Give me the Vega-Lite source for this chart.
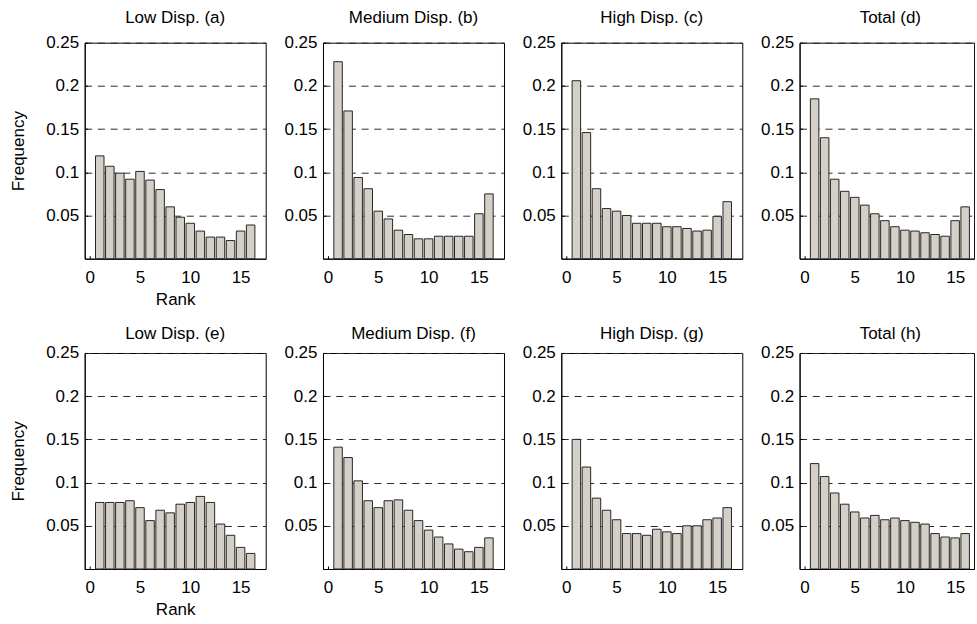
{
  "$schema": "https://vega.github.io/schema/vega-lite/v6.json",
  "padding": {"left": 8.7, "top": 7.7, "right": 0, "bottom": 0},
  "bounds": "flush",
  "columns": 4,
  "spacing": {"row": 94.3, "column": 57.3},
  "datasets": {
    "freq": [
      {"panel": "a", "rank": 1, "freq": 0.119}, {"panel": "a", "rank": 2, "freq": 0.107}, {"panel": "a", "rank": 3, "freq": 0.099}, {"panel": "a", "rank": 4, "freq": 0.092},
      {"panel": "a", "rank": 5, "freq": 0.101}, {"panel": "a", "rank": 6, "freq": 0.091}, {"panel": "a", "rank": 7, "freq": 0.080}, {"panel": "a", "rank": 8, "freq": 0.060},
      {"panel": "a", "rank": 9, "freq": 0.048}, {"panel": "a", "rank": 10, "freq": 0.041}, {"panel": "a", "rank": 11, "freq": 0.032}, {"panel": "a", "rank": 12, "freq": 0.025},
      {"panel": "a", "rank": 13, "freq": 0.025}, {"panel": "a", "rank": 14, "freq": 0.021}, {"panel": "a", "rank": 15, "freq": 0.032}, {"panel": "a", "rank": 16, "freq": 0.039},

      {"panel": "b", "rank": 1, "freq": 0.228}, {"panel": "b", "rank": 2, "freq": 0.171}, {"panel": "b", "rank": 3, "freq": 0.094}, {"panel": "b", "rank": 4, "freq": 0.081},
      {"panel": "b", "rank": 5, "freq": 0.055}, {"panel": "b", "rank": 6, "freq": 0.046}, {"panel": "b", "rank": 7, "freq": 0.033}, {"panel": "b", "rank": 8, "freq": 0.028},
      {"panel": "b", "rank": 9, "freq": 0.023}, {"panel": "b", "rank": 10, "freq": 0.023}, {"panel": "b", "rank": 11, "freq": 0.026}, {"panel": "b", "rank": 12, "freq": 0.026},
      {"panel": "b", "rank": 13, "freq": 0.026}, {"panel": "b", "rank": 14, "freq": 0.026}, {"panel": "b", "rank": 15, "freq": 0.052}, {"panel": "b", "rank": 16, "freq": 0.075},

      {"panel": "c", "rank": 1, "freq": 0.206}, {"panel": "c", "rank": 2, "freq": 0.146}, {"panel": "c", "rank": 3, "freq": 0.081}, {"panel": "c", "rank": 4, "freq": 0.058},
      {"panel": "c", "rank": 5, "freq": 0.055}, {"panel": "c", "rank": 6, "freq": 0.050}, {"panel": "c", "rank": 7, "freq": 0.041}, {"panel": "c", "rank": 8, "freq": 0.041},
      {"panel": "c", "rank": 9, "freq": 0.041}, {"panel": "c", "rank": 10, "freq": 0.037}, {"panel": "c", "rank": 11, "freq": 0.037}, {"panel": "c", "rank": 12, "freq": 0.035},
      {"panel": "c", "rank": 13, "freq": 0.032}, {"panel": "c", "rank": 14, "freq": 0.033}, {"panel": "c", "rank": 15, "freq": 0.049}, {"panel": "c", "rank": 16, "freq": 0.066},

      {"panel": "d", "rank": 1, "freq": 0.185}, {"panel": "d", "rank": 2, "freq": 0.140}, {"panel": "d", "rank": 3, "freq": 0.092}, {"panel": "d", "rank": 4, "freq": 0.078},
      {"panel": "d", "rank": 5, "freq": 0.071}, {"panel": "d", "rank": 6, "freq": 0.062}, {"panel": "d", "rank": 7, "freq": 0.052}, {"panel": "d", "rank": 8, "freq": 0.044},
      {"panel": "d", "rank": 9, "freq": 0.037}, {"panel": "d", "rank": 10, "freq": 0.033}, {"panel": "d", "rank": 11, "freq": 0.032}, {"panel": "d", "rank": 12, "freq": 0.030},
      {"panel": "d", "rank": 13, "freq": 0.028}, {"panel": "d", "rank": 14, "freq": 0.026}, {"panel": "d", "rank": 15, "freq": 0.044}, {"panel": "d", "rank": 16, "freq": 0.060},

      {"panel": "e", "rank": 1, "freq": 0.077}, {"panel": "e", "rank": 2, "freq": 0.077}, {"panel": "e", "rank": 3, "freq": 0.077}, {"panel": "e", "rank": 4, "freq": 0.079},
      {"panel": "e", "rank": 5, "freq": 0.071}, {"panel": "e", "rank": 6, "freq": 0.056}, {"panel": "e", "rank": 7, "freq": 0.068}, {"panel": "e", "rank": 8, "freq": 0.065},
      {"panel": "e", "rank": 9, "freq": 0.075}, {"panel": "e", "rank": 10, "freq": 0.077}, {"panel": "e", "rank": 11, "freq": 0.084}, {"panel": "e", "rank": 12, "freq": 0.077},
      {"panel": "e", "rank": 13, "freq": 0.052}, {"panel": "e", "rank": 14, "freq": 0.039}, {"panel": "e", "rank": 15, "freq": 0.025}, {"panel": "e", "rank": 16, "freq": 0.018},

      {"panel": "f", "rank": 1, "freq": 0.141}, {"panel": "f", "rank": 2, "freq": 0.129}, {"panel": "f", "rank": 3, "freq": 0.102}, {"panel": "f", "rank": 4, "freq": 0.079},
      {"panel": "f", "rank": 5, "freq": 0.071}, {"panel": "f", "rank": 6, "freq": 0.079}, {"panel": "f", "rank": 7, "freq": 0.080}, {"panel": "f", "rank": 8, "freq": 0.068},
      {"panel": "f", "rank": 9, "freq": 0.056}, {"panel": "f", "rank": 10, "freq": 0.045}, {"panel": "f", "rank": 11, "freq": 0.037}, {"panel": "f", "rank": 12, "freq": 0.029},
      {"panel": "f", "rank": 13, "freq": 0.023}, {"panel": "f", "rank": 14, "freq": 0.020}, {"panel": "f", "rank": 15, "freq": 0.025}, {"panel": "f", "rank": 16, "freq": 0.036},

      {"panel": "g", "rank": 1, "freq": 0.150}, {"panel": "g", "rank": 2, "freq": 0.118}, {"panel": "g", "rank": 3, "freq": 0.082}, {"panel": "g", "rank": 4, "freq": 0.068},
      {"panel": "g", "rank": 5, "freq": 0.057}, {"panel": "g", "rank": 6, "freq": 0.041}, {"panel": "g", "rank": 7, "freq": 0.041}, {"panel": "g", "rank": 8, "freq": 0.039},
      {"panel": "g", "rank": 9, "freq": 0.046}, {"panel": "g", "rank": 10, "freq": 0.043}, {"panel": "g", "rank": 11, "freq": 0.041}, {"panel": "g", "rank": 12, "freq": 0.050},
      {"panel": "g", "rank": 13, "freq": 0.050}, {"panel": "g", "rank": 14, "freq": 0.057}, {"panel": "g", "rank": 15, "freq": 0.059}, {"panel": "g", "rank": 16, "freq": 0.071},

      {"panel": "h", "rank": 1, "freq": 0.122}, {"panel": "h", "rank": 2, "freq": 0.107}, {"panel": "h", "rank": 3, "freq": 0.088}, {"panel": "h", "rank": 4, "freq": 0.075},
      {"panel": "h", "rank": 5, "freq": 0.066}, {"panel": "h", "rank": 6, "freq": 0.059}, {"panel": "h", "rank": 7, "freq": 0.062}, {"panel": "h", "rank": 8, "freq": 0.057},
      {"panel": "h", "rank": 9, "freq": 0.059}, {"panel": "h", "rank": 10, "freq": 0.056}, {"panel": "h", "rank": 11, "freq": 0.054}, {"panel": "h", "rank": 12, "freq": 0.052},
      {"panel": "h", "rank": 13, "freq": 0.041}, {"panel": "h", "rank": 14, "freq": 0.037}, {"panel": "h", "rank": 15, "freq": 0.036}, {"panel": "h", "rank": 16, "freq": 0.041}
    ]
  },
  "concat": [
    {
      "title": {"text": "Low Disp. (a)", "offset": 7}, "width": 181, "height": 216,
      "data": {"name": "freq"}, "transform": [{"filter": {"field": "panel", "equal": "a"}}],
      "mark": {"type": "bar", "size": 8.5},
      "encoding": {
        "x": {"field": "rank", "type": "quantitative", "scale": {"domain": [0, 17], "nice": false, "zero": false}, "axis": {"values": [0, 5, 10, 15], "title": "Rank"}},
        "y": {"field": "freq", "type": "quantitative", "scale": {"domain": [0, 0.25], "nice": false}, "axis": {"values": [0.05, 0.1, 0.15, 0.2, 0.25], "format": ".2~f", "title": "Frequency"}}
      }
    },
    {
      "title": {"text": "Medium Disp. (b)", "offset": 7}, "width": 181, "height": 216,
      "data": {"name": "freq"}, "transform": [{"filter": {"field": "panel", "equal": "b"}}],
      "mark": {"type": "bar", "size": 8.5},
      "encoding": {
        "x": {"field": "rank", "type": "quantitative", "scale": {"domain": [0, 17], "nice": false, "zero": false}, "axis": {"values": [0, 5, 10, 15], "title": null}},
        "y": {"field": "freq", "type": "quantitative", "scale": {"domain": [0, 0.25], "nice": false}, "axis": {"values": [0.05, 0.1, 0.15, 0.2, 0.25], "format": ".2~f", "title": null}}
      }
    },
    {
      "title": {"text": "High Disp. (c)", "offset": 7}, "width": 181, "height": 216,
      "data": {"name": "freq"}, "transform": [{"filter": {"field": "panel", "equal": "c"}}],
      "mark": {"type": "bar", "size": 8.5},
      "encoding": {
        "x": {"field": "rank", "type": "quantitative", "scale": {"domain": [0, 17], "nice": false, "zero": false}, "axis": {"values": [0, 5, 10, 15], "title": null}},
        "y": {"field": "freq", "type": "quantitative", "scale": {"domain": [0, 0.25], "nice": false}, "axis": {"values": [0.05, 0.1, 0.15, 0.2, 0.25], "format": ".2~f", "title": null}}
      }
    },
    {
      "title": {"text": "Total (d)", "anchor": "middle", "dx": 3.5, "offset": 7},
      "width": 174.5, "height": 216,
      "data": {"name": "freq"}, "transform": [{"filter": {"field": "panel", "equal": "d"}}],
      "mark": {"type": "bar", "size": 8.5, "clip": true},
      "encoding": {
        "x": {"field": "rank", "type": "quantitative", "scale": {"domain": [0, 16.39], "nice": false, "zero": false}, "axis": {"values": [0, 5, 10, 15], "title": null}},
        "y": {"field": "freq", "type": "quantitative", "scale": {"domain": [0, 0.25], "nice": false}, "axis": {"values": [0.05, 0.1, 0.15, 0.2, 0.25], "format": ".2~f", "title": null}}
      }
    },
    {
      "title": {"text": "Low Disp. (e)", "offset": 1}, "width": 181, "height": 216,
      "data": {"name": "freq"}, "transform": [{"filter": {"field": "panel", "equal": "e"}}],
      "mark": {"type": "bar", "size": 8.5},
      "encoding": {
        "x": {"field": "rank", "type": "quantitative", "scale": {"domain": [0, 17], "nice": false, "zero": false}, "axis": {"values": [0, 5, 10, 15], "title": "Rank"}},
        "y": {"field": "freq", "type": "quantitative", "scale": {"domain": [0, 0.25], "nice": false}, "axis": {"values": [0.05, 0.1, 0.15, 0.2, 0.25], "format": ".2~f", "title": "Frequency"}}
      }
    },
    {
      "title": {"text": "Medium Disp. (f)", "offset": 1}, "width": 181, "height": 216,
      "data": {"name": "freq"}, "transform": [{"filter": {"field": "panel", "equal": "f"}}],
      "mark": {"type": "bar", "size": 8.5},
      "encoding": {
        "x": {"field": "rank", "type": "quantitative", "scale": {"domain": [0, 17], "nice": false, "zero": false}, "axis": {"values": [0, 5, 10, 15], "title": null}},
        "y": {"field": "freq", "type": "quantitative", "scale": {"domain": [0, 0.25], "nice": false}, "axis": {"values": [0.05, 0.1, 0.15, 0.2, 0.25], "format": ".2~f", "title": null}}
      }
    },
    {
      "title": {"text": "High Disp. (g)", "offset": 1}, "width": 181, "height": 216,
      "data": {"name": "freq"}, "transform": [{"filter": {"field": "panel", "equal": "g"}}],
      "mark": {"type": "bar", "size": 8.5},
      "encoding": {
        "x": {"field": "rank", "type": "quantitative", "scale": {"domain": [0, 17], "nice": false, "zero": false}, "axis": {"values": [0, 5, 10, 15], "title": null}},
        "y": {"field": "freq", "type": "quantitative", "scale": {"domain": [0, 0.25], "nice": false}, "axis": {"values": [0.05, 0.1, 0.15, 0.2, 0.25], "format": ".2~f", "title": null}}
      }
    },
    {
      "title": {"text": "Total (h)", "anchor": "middle", "dx": 3.5, "offset": 1},
      "width": 174.5, "height": 216,
      "data": {"name": "freq"}, "transform": [{"filter": {"field": "panel", "equal": "h"}}],
      "mark": {"type": "bar", "size": 8.5, "clip": true},
      "encoding": {
        "x": {"field": "rank", "type": "quantitative", "scale": {"domain": [0, 16.39], "nice": false, "zero": false}, "axis": {"values": [0, 5, 10, 15], "title": null}},
        "y": {"field": "freq", "type": "quantitative", "scale": {"domain": [0, 0.25], "nice": false}, "axis": {"values": [0.05, 0.1, 0.15, 0.2, 0.25], "format": ".2~f", "title": null}}
      }
    }
  ],
  "config": {
    "font": "Liberation Sans",
    "background": "#ffffff",
    "view": {"stroke": "#000000", "strokeWidth": 1},
    "bar": {"fill": "#d4d0c8", "stroke": "#262626", "strokeWidth": 1, "opacity": 1},
    "title": {"font": "Liberation Sans", "fontSize": 17, "fontWeight": "normal", "color": "#000000", "offset": 4},
    "axis": {
      "domainColor": "#000000", "tickColor": "#000000", "tickSize": -3,
      "labelFont": "Liberation Sans", "labelFontSize": 17, "labelColor": "#000000",
      "titleFont": "Liberation Sans", "titleFontSize": 17, "titleFontWeight": "normal", "titleColor": "#000000",
      "labelFlush": false, "labelOverlap": false
    },
    "axisY": {"grid": true, "gridColor": "#2a2a2a", "gridDash": [7, 5.7], "labelPadding": 9, "titlePadding": 18},
    "axisX": {"grid": false, "labelPadding": 14, "titlePadding": 6}
  }
}
